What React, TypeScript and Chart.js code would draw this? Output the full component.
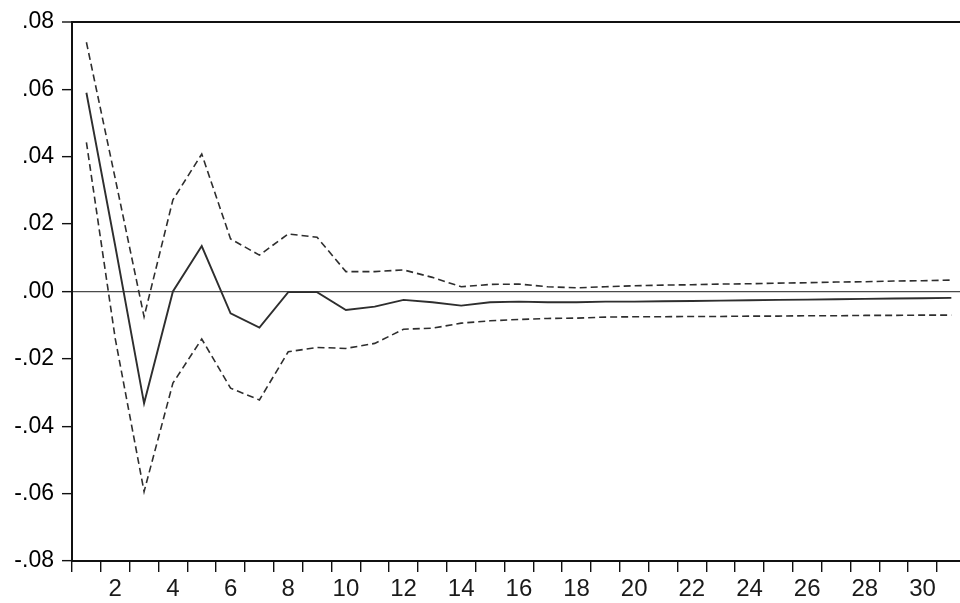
import React, { useEffect, useRef } from "react";
import { Chart, registerables } from "chart.js";

Chart.register(...registerables);

const periods = [1, 2, 3, 4, 5, 6, 7, 8, 9, 10, 11, 12, 13, 14, 15, 16, 17, 18, 19, 20, 21, 22, 23, 24, 25, 26, 27, 28, 29, 30, 31];

const response = [
  0.0590, 0.0135, -0.0332, 0.0000, 0.0135, -0.0065, -0.0107, -0.0002, -0.0002, -0.0055,
  -0.0045, -0.0025, -0.0032, -0.0042, -0.0032, -0.0030, -0.0032, -0.0032, -0.0030, -0.0030,
  -0.0029, -0.0028, -0.0027, -0.0026, -0.0025, -0.0024, -0.0023, -0.0022, -0.0021, -0.0020, -0.0019,
];

const upperBand = [
  0.0740, 0.0335, -0.0075, 0.0272, 0.0408, 0.0156, 0.0108, 0.0171, 0.0161, 0.0059,
  0.0059, 0.0064, 0.0042, 0.0014, 0.0021, 0.0022, 0.0014, 0.0011, 0.0014, 0.0017,
  0.0019, 0.0020, 0.0022, 0.0023, 0.0025, 0.0026, 0.0028, 0.0029, 0.0031, 0.0032, 0.0034,
];

const lowerBand = [
  0.0443, -0.0140, -0.0594, -0.0272, -0.0141, -0.0287, -0.0322, -0.0179, -0.0166, -0.0169,
  -0.0154, -0.0112, -0.0109, -0.0094, -0.0087, -0.0083, -0.0080, -0.0079, -0.0076, -0.0075,
  -0.0075, -0.0074, -0.0074, -0.0073, -0.0073, -0.0072, -0.0072, -0.0071, -0.0071, -0.0070, -0.0070,
];

const yTickValues = [-0.08, -0.06, -0.04, -0.02, 0, 0.02, 0.04, 0.06, 0.08];

const fmtY = (v: number) => {
  const s = (Math.abs(v) < 1e-9 ? 0 : v).toFixed(2);
  return s.replace("0.", ".");
};

export default function App() {
  const ref = useRef<HTMLCanvasElement | null>(null);

  useEffect(() => {
    if (!ref.current) return;
    const toXY = (arr: number[]) => periods.map((p, i) => ({ x: p, y: arr[i] }));
    const lineColor = "#2e2e2e";
    const chart = new Chart(ref.current, {
      type: "line",
      data: {
        datasets: [
          {
            data: toXY(upperBand),
            borderColor: lineColor,
            borderWidth: 1.6,
            borderDash: [7, 4],
            pointRadius: 0,
            tension: 0,
            fill: false,
          },
          {
            data: toXY(response),
            borderColor: lineColor,
            borderWidth: 1.9,
            pointRadius: 0,
            tension: 0,
            fill: false,
          },
          {
            data: toXY(lowerBand),
            borderColor: lineColor,
            borderWidth: 1.6,
            borderDash: [7, 4],
            pointRadius: 0,
            tension: 0,
            fill: false,
          },
        ],
      },
      options: {
        animation: false,
        responsive: false,
        layout: { padding: { top: 22, right: 0, left: 0, bottom: 0 } },
        plugins: {
          legend: { display: false },
          tooltip: { enabled: false },
        },
        scales: {
          x: {
            type: "linear",
            min: 0.5,
            max: 31.3,
            afterBuildTicks: (scale: any) => {
              scale.ticks = periods.map((p) => ({ value: p }));
            },
            afterFit: (scale: any) => {
              scale.height = 42;
            },
            ticks: {
              autoSkip: false,
              maxRotation: 0,
              minRotation: 0,
              padding: 3,
              color: "#1a1a1a",
              font: { family: "'Liberation Sans', Arial, sans-serif", size: 24 },
              callback: (v: any) => (Number(v) % 2 === 0 ? String(v) : ""),
            },
            grid: {
              offset: true,
              drawOnChartArea: false,
              drawTicks: true,
              tickLength: 11,
              color: "#111",
              lineWidth: 1.4,
            },
            border: { display: true, color: "#111", width: 2 },
          },
          y: {
            type: "linear",
            min: -0.08,
            max: 0.08,
            afterBuildTicks: (scale: any) => {
              scale.ticks = yTickValues.map((v) => ({ value: v }));
            },
            afterFit: (scale: any) => {
              scale.width = 72;
            },
            ticks: {
              padding: 8,
              color: "#000",
              font: { family: "'Liberation Sans', Arial, sans-serif", size: 23 },
              callback: (v: any) => fmtY(Number(v)),
            },
            grid: {
              drawOnChartArea: true,
              drawTicks: true,
              tickLength: 10,
              color: (ctx: any) => {
                const v = ctx.tick ? ctx.tick.value : NaN;
                if (Math.abs(v) < 1e-9) return "#4a4a4a";
                if (Math.abs(v - 0.08) < 1e-9) return "#111";
                return "rgba(0,0,0,0)";
              },
              lineWidth: (ctx: any) => {
                const v = ctx.tick ? ctx.tick.value : NaN;
                if (Math.abs(v - 0.08) < 1e-9) return 2;
                return 1.3;
              },
              tickColor: "#111",
              tickWidth: 1.4,
            },
            border: { display: true, color: "#111", width: 2 },
          },
        },
      },
    });
    return () => chart.destroy();
  }, []);

  return (
    <div style={{ position: "absolute", left: 0, top: 0, width: 960, height: 603, background: "#fff" }}>
      <canvas ref={ref} width={960} height={603} style={{ display: "block" }} />
    </div>
  );
}
